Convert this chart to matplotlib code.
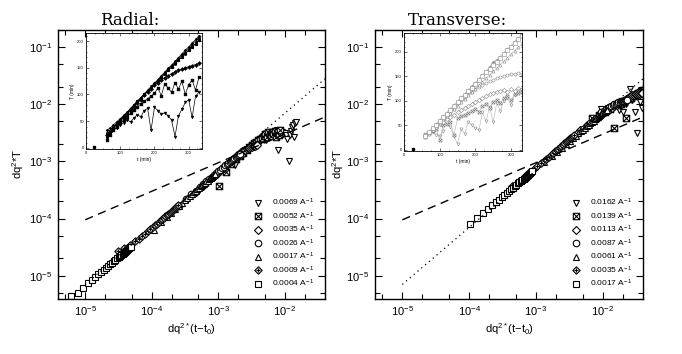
import numpy as np
import matplotlib.pyplot as plt
from matplotlib.path import Path
from matplotlib.ticker import LogLocator, NullFormatter, MultipleLocator

plt.rcParams['font.family'] = ['Liberation Sans', 'DejaVu Sans']
plt.rcParams['mathtext.fontset'] = 'custom'
plt.rcParams['mathtext.rm'] = 'Liberation Sans'
plt.rcParams['mathtext.it'] = 'Liberation Sans:italic'
plt.rcParams['mathtext.default'] = 'regular'

# sampling times of the relaxation-time curves (min) and onset time t0
t_min = [60, 70, 80, 90, 100, 110, 120, 130, 140, 150, 160, 170, 180, 190,
         200, 210, 220, 230, 240, 250, 260, 270, 280, 290, 300, 310, 320, 330]
t0_radial = 22
t0_trans = 24

# ---- radial: q values (1/A) and T(t) in min
q_radial = [0.0069, 0.0052, 0.0035, 0.0026, 0.0017, 0.0009, 0.0004]
T_r0069 = [18, 26, 33, 38, 43, 47, 52, 49, 56, 62, 58, 70, 74, 33,
           76, 70, 63, 66, 60, 52, 21, 60, 72, 85, 90, 57, 97, 104]
T_r0052 = [14, 24, 33, 40, 46, 52, 58, 65, 71, 77, 82, 87, 92, 97,
           102, 112, 98, 120, 112, 104, 122, 110, 125, 100, 118, 127, 108, 132]
T_r0035 = [24, 30, 37, 44, 50, 57, 63, 70, 77, 84, 90, 99, 105, 111,
           117, 122, 127, 131, 135, 139, 142, 145, 148, 150, 152, 154, 156, 158]
T_r0026 = [25, 32, 39, 45, 52, 60, 66, 73, 80, 87, 93, 100, 106, 113,
           120, 126, 133, 139, 146, 152, 158, 164, 171, 177, 183, 189, 195, 201]
T_r0017 = [22, 30, 37, 44, 51, 58, 65, 72, 79, 86, 93, 100, 107, 113,
           120, 127, 134, 140, 147, 154, 160, 167, 174, 180, 187, 194, 200, 207]
T_r0009 = [33, 37, 43, 49, 55, 61, 67, 74, 81, 88, 94, 101, 108, 115,
           121, 128, 135, 142, 149, 155, 162, 169, 176, 183, 189, 196, 203, 210]
T_r0004 = [27, 31, 38, 46, 52, 58, 66, 72, 79, 86, 92, 99, 106, 112,
           119, 125, 132, 138, 145, 151, 157, 164, 170, 176, 183, 189, 195, 201]
T_radial = [T_r0069, T_r0052, T_r0035, T_r0026, T_r0017, T_r0009, T_r0004]

# ---- transverse
q_trans = [0.0162, 0.0139, 0.0113, 0.0087, 0.0061, 0.0035, 0.0017]
T_t0162 = [32, 33, 36, 30, 28, 38, 72, 46, 28, 12, 42, 33, 57, 50,
           44, 40, 77, 58, 88, 57, 95, 80, 100, 105, 92, 112, 118, 122]
T_t0139 = [30, 34, 38, 42, 20, 50, 53, 57, 30, 64, 68, 72, 75, 79,
           83, 78, 89, 93, 86, 98, 101, 95, 106, 109, 101, 113, 116, 119]
T_t0113 = [28, 34, 40, 46, 52, 57, 62, 67, 72, 77, 82, 86, 90, 94,
           98, 102, 106, 110, 113, 116, 119, 121, 123, 118, 124, 121, 126, 125]
T_t0087 = [27, 34, 41, 48, 55, 62, 69, 76, 83, 95, 102, 108, 114, 119,
           124, 128, 132, 136, 140, 143, 146, 148, 150, 152, 154, 155, 156, 155]
T_t0061 = [26, 33, 40, 47, 54, 62, 69, 76, 83, 90, 97, 104, 111, 118,
           125, 132, 139, 146, 153, 160, 167, 174, 181, 188, 195, 202, 209, 216]
T_t0035 = [30, 37, 45, 53, 60, 68, 76, 84, 91, 99, 107, 114, 122, 130,
           137, 145, 153, 161, 170, 179, 183, 190, 198, 206, 213, 221, 228, 235]
T_t0017 = [28, 36, 44, 51, 59, 67, 74, 82, 89, 97, 105, 112, 120, 127,
           135, 143, 150, 158, 165, 173, 180, 188, 196, 203, 211, 218, 226, 232]
T_trans = [T_t0162, T_t0139, T_t0113, T_t0087, T_t0061, T_t0035, T_t0017]

# guide lines (end points)
guide_x = [1e-5, 0.04]
dotted_y = [7e-6, 0.028]
dashed_y = [9.5e-5, 6.0e-3]

MV, LT, CL = Path.MOVETO, Path.LINETO, Path.CLOSEPOLY
box_x = Path([(-1, -1), (1, -1), (1, 1), (-1, 1), (-1, -1), (-1, -1), (1, 1), (-1, 1), (1, -1)],
             [MV, LT, LT, LT, CL, MV, LT, MV, LT])
dia_plus = Path([(0, -1), (1, 0), (0, 1), (-1, 0), (0, -1), (-0.55, 0), (0.55, 0), (0, -0.55), (0, 0.55)],
                [MV, LT, LT, LT, CL, MV, LT, MV, LT])
markers = ['v', box_x, 'D', 'o', '^', dia_plus, 's']
msizes = [4.9, 4.6, 3.9, 4.7, 4.9, 5.3, 4.3]


def style_main(ax):
    ax.set_xscale('log')
    ax.set_yscale('log')
    ax.set_xlim(3.9e-6, 0.04)
    ax.set_ylim(3.9e-6, 0.2)
    for axis in (ax.xaxis, ax.yaxis):
        axis.set_major_locator(LogLocator(base=10, numticks=12))
        axis.set_minor_locator(LogLocator(base=10, subs=(2, 5), numticks=12))
        axis.set_minor_formatter(NullFormatter())
    ax.tick_params(which='both', direction='in', top=True, right=True, labelsize=8, width=0.8)
    ax.tick_params(which='major', length=5, pad=4)
    ax.tick_params(which='minor', length=3.5)
    for s in ax.spines.values():
        s.set_linewidth(1.0)


def style_inset(ins, xmax, ymax):
    ins.set_xlim(0, xmax)
    ins.set_ylim(-2, ymax)
    ins.xaxis.set_major_locator(MultipleLocator(100))
    ins.xaxis.set_minor_locator(MultipleLocator(25))
    ins.yaxis.set_major_locator(MultipleLocator(50))
    ins.yaxis.set_minor_locator(MultipleLocator(10))
    ins.tick_params(which='both', direction='in', top=True, right=True, labelsize=3, width=0.4, pad=1.5)
    ins.tick_params(which='major', length=2)
    ins.tick_params(which='minor', length=1)
    for s in ins.spines.values():
        s.set_linewidth(0.6)
    ins.set_xlabel('t (min)', fontsize=3.5, labelpad=1.5)
    ins.set_ylabel('T (min)', fontsize=3.5, labelpad=1.5)


def panel(ax, ins, qs, Ts, t0, inset_dark):
    t = np.array(t_min, dtype=float)
    for q, T, m, ms in zip(qs, Ts, markers, msizes):
        T = np.array(T, dtype=float)
        ax.plot(q**2 * (t - t0), q**2 * T, ls='none', marker=m, ms=ms, mfc='white',
                mec='black', mew=0.8, label=f'{q:.4f} A$^{{-1}}$')
        if inset_dark:
            ins.plot(t, T, '-', color='black', lw=0.5, marker=m, ms=2.0,
                     mfc='black', mec='black', mew=0.4)
        else:
            ins.plot(t, T, '-', color='#b4b4b4', lw=0.4, marker=m, ms=2.2,
                     mfc='white', mec='#8a8a8a', mew=0.4)
    ins.plot([t0], [1], 's', ms=1.8, color='black', clip_on=False)
    ax.plot(guide_x, dotted_y, ls=(0, (1, 3)), color='black', lw=0.9)
    ax.plot(guide_x, dashed_y, ls=(0, (6, 4)), color='black', lw=1.0)
    ax.set_xlabel('dq$^{2*}$(t$-$t$_0$)', fontsize=8)
    ax.set_ylabel('dq$^2$*T', fontsize=8)


fig = plt.figure(figsize=(6.82, 3.54), dpi=100)
W, H = 682.0, 354.0
axL = fig.add_axes([58 / W, 1 - 299 / H, 267 / W, 269 / H])
axR = fig.add_axes([375 / W, 1 - 299 / H, 268 / W, 269 / H])
insL = fig.add_axes([86 / W, 1 - 149 / H, 115.7 / W, 116 / H])
insR = fig.add_axes([404 / W, 1 - 150.7 / H, 117.7 / W, 117.4 / H])

for ax in (axL, axR):
    style_main(ax)
style_inset(insL, 338, 215)
style_inset(insR, 330, 238)

panel(axL, insL, q_radial, T_radial, t0_radial, True)
panel(axR, insR, q_trans, T_trans, t0_trans, False)

axL.yaxis.set_label_coords(-0.118, 0.5)
axR.yaxis.set_label_coords(-0.108, 0.5)
for ax in (axL, axR):
    ax.xaxis.set_label_coords(0.5, -0.084)

axL.legend(loc='lower right', bbox_to_anchor=(0.987, 0.008), frameon=False, fontsize=6,
           handlelength=1.0, handletextpad=1.2, labelspacing=0.27, borderpad=0.4)
axR.legend(loc='lower right', bbox_to_anchor=(0.986, 0.008), frameon=False, fontsize=6,
           handlelength=1.0, handletextpad=1.2, labelspacing=0.27, borderpad=0.4)

fig.text(100 / W, 1 - 25 / H, 'Radial:', family='DejaVu Serif', fontsize=12, va='baseline')
fig.text(408 / W, 1 - 25 / H, 'Transverse:', family='DejaVu Serif', fontsize=12, va='baseline')

fig.savefig('out.png', dpi=100)
